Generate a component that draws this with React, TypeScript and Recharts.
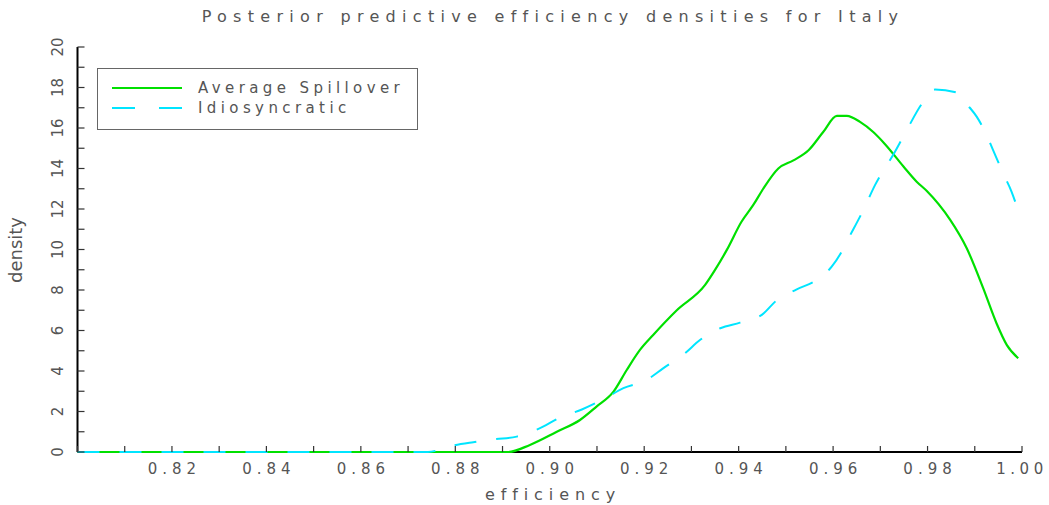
import React from 'react';
import { LineChart, Line, XAxis, YAxis, Legend } from 'recharts';

// Average Spillover density
const avgEff = [0.8, 0.8912, 0.8958, 0.9015, 0.9064, 0.9099, 0.9135, 0.9163, 0.9191, 0.9219, 0.9269, 0.9329, 0.935, 0.9375, 0.9406, 0.9431, 0.9452, 0.9484, 0.9516, 0.9548, 0.9579, 0.9608, 0.9629, 0.9657, 0.9685, 0.971, 0.9749, 0.9777, 0.9798, 0.9848, 0.9883, 0.9918, 0.9946, 0.9968, 0.9992];
const avgDen = [0, 0, 0.35, 1.0, 1.58, 2.24, 2.98, 4.05, 5.04, 5.78, 7.0, 8.25, 8.99, 9.98, 11.37, 12.2, 13.0, 14.0, 14.4, 14.9, 15.8, 16.6, 16.6, 16.3, 15.8, 15.2, 14.1, 13.35, 12.9, 11.46, 10.06, 8.08, 6.36, 5.28, 4.63];

// Idiosyncratic density
const idioEff = [0.8, 0.8742, 0.8792, 0.8838, 0.8884, 0.893, 0.8976, 0.9022, 0.9068, 0.9117, 0.9156, 0.9205, 0.924, 0.9286, 0.9318, 0.9361, 0.9403, 0.9449, 0.9481, 0.9523, 0.9565, 0.9597, 0.9618, 0.9629, 0.9664, 0.9689, 0.9731, 0.9756, 0.9788, 0.9816, 0.9862, 0.9886, 0.9904, 0.9922, 0.9939, 0.996, 0.9978, 0.9988];
const idioDen = [0, 0, 0.3, 0.48, 0.63, 0.76, 1.14, 1.7, 2.1, 2.65, 3.15, 3.56, 4.13, 4.87, 5.53, 6.11, 6.39, 6.77, 7.5, 8.03, 8.49, 9.15, 9.89, 10.39, 11.95, 13.19, 14.83, 15.9, 17.2, 17.9, 17.75, 17.1, 16.56, 15.8, 14.9, 13.76, 12.85, 12.2];

const xTicks = [0.8, 0.81, 0.82, 0.83, 0.84, 0.85, 0.86, 0.87, 0.88, 0.89, 0.9, 0.91, 0.92, 0.93, 0.94, 0.95, 0.96, 0.97, 0.98, 0.99, 1.0];
const xLabelTicks = [0.82, 0.84, 0.86, 0.88, 0.9, 0.92, 0.94, 0.96, 0.98, 1.0];
const yTicks = [0, 1, 2, 3, 4, 5, 6, 7, 8, 9, 10, 11, 12, 13, 14, 15, 16, 17, 18, 19, 20];
const yLabelTicks = [0, 2, 4, 6, 8, 10, 12, 14, 16, 18, 20];

const seriesNames = ['Average Spillover', 'Idiosyncratic'];
const titleText = 'Posterior predictive efficiency densities for Italy';
const xLabelText = 'efficiency';
const yLabelText = 'density';

const avgData = avgEff.map((e, i) => ({ eff: e, den: avgDen[i] }));
const idioData = idioEff.map((e, i) => ({ eff: e, den: idioDen[i] }));

const FONT = '"DejaVu Sans", sans-serif';
const TEXT = '#555';
const TICK = '#333';
const GREEN = '#00e000';
const CYAN = '#00e5ff';
const W = 1049;
const H = 505;
const TL = 6;

const isIn = (v: number, arr: number[]) => arr.some((a) => Math.abs(a - v) < 1e-6);

const BottomTick = (props: any) => {
  const { x, y, payload } = props;
  const ay = y - 10;
  const isLast = Math.abs(payload.value - 1.0) < 1e-6;
  return (
    <g>
      <line x1={x} x2={x} y1={ay} y2={ay - TL} stroke={TICK} strokeWidth={1.2} />
      {isIn(payload.value, xLabelTicks) && (
        <text x={isLast ? x : x + 2.5} y={y} dy="0.78em" textAnchor="middle" fontFamily={FONT} fontSize={15} letterSpacing={isLast ? 4.5 : 5} fill={TEXT}>
          {payload.value.toFixed(2)}
        </text>
      )}
    </g>
  );
};

const TopTick = (props: any) => {
  const { x, y } = props;
  return <line x1={x} x2={x} y1={y} y2={y + TL} stroke={TICK} strokeWidth={1.2} />;
};

const LeftTick = (props: any) => {
  const { x, y, payload } = props;
  const ax = x + 20;
  return (
    <g>
      <line x1={ax} x2={ax + TL + 1} y1={y} y2={y} stroke={TICK} strokeWidth={1.2} />
      {isIn(payload.value, yLabelTicks) && (
        <text x={x} y={y} transform={`rotate(-90 ${x} ${y})`} textAnchor="middle" dominantBaseline="central" fontFamily={FONT} fontSize={15} fill={TEXT}>
          {String(payload.value)}
        </text>
      )}
    </g>
  );
};

const RightTick = (props: any) => {
  const { x, y } = props;
  return <line x1={x - TL - 1} x2={x} y1={y} y2={y} stroke={TICK} strokeWidth={1.2} />;
};

const renderLegend = () => (
  <div style={{ width: 321, height: 62, border: '1px solid #666', boxSizing: 'border-box', background: '#fff' }}>
    <svg width={319} height={60} style={{ display: 'block' }}>
      <line x1={14} x2={84} y1={19} y2={19} stroke={GREEN} strokeWidth={2.2} />
      <line x1={14} x2={84} y1={39} y2={39} stroke={CYAN} strokeWidth={2} strokeDasharray="23 24" />
      <text x={100} y={19} dominantBaseline="central" fontFamily={FONT} fontSize={15} letterSpacing={4.4} fill={TEXT}>{seriesNames[0]}</text>
      <text x={100} y={39} dominantBaseline="central" fontFamily={FONT} fontSize={15} letterSpacing={4.4} fill={TEXT}>{seriesNames[1]}</text>
    </svg>
  </div>
);

export default function App() {
  const lineExtra: any = { zIndex: 600 };
  return (
    <div style={{ position: 'relative', width: W, height: H, background: '#fff', overflow: 'hidden' }}>
      <style>{'html,body{margin:0;padding:0;overflow:hidden;}'}</style>
      <LineChart width={W} height={H} margin={{ top: 47, right: 27, bottom: 23, left: 37.5 }}>
        <XAxis
          xAxisId="b"
          dataKey="eff"
          type="number"
          domain={[0.8, 1.0]}
          ticks={xTicks}
          interval={0}
          height={30}
          tickSize={0}
          tickMargin={10}
          tickLine={false}
          axisLine={{ stroke: '#000', strokeWidth: 2 }}
          tick={BottomTick}
        />
        <XAxis
          xAxisId="t"
          orientation="top"
          dataKey="eff"
          type="number"
          domain={[0.8, 1.0]}
          ticks={xTicks}
          interval={0}
          height={0}
          tickSize={0}
          tickMargin={0}
          tickLine={false}
          axisLine={{ stroke: '#000', strokeWidth: 2 }}
          tick={TopTick}
        />
        <YAxis
          yAxisId="l"
          type="number"
          domain={[0, 20]}
          ticks={yTicks}
          interval={0}
          width={40}
          tickSize={0}
          tickMargin={20}
          tickLine={false}
          axisLine={{ stroke: '#000', strokeWidth: 2 }}
          tick={LeftTick}
        />
        <YAxis
          yAxisId="r"
          orientation="right"
          type="number"
          domain={[0, 20]}
          ticks={yTicks}
          interval={0}
          width={0}
          tickSize={0}
          tickMargin={0}
          tickLine={false}
          axisLine={{ stroke: '#000', strokeWidth: 2 }}
          tick={RightTick}
        />
        <Legend
          layout="horizontal"
          verticalAlign="middle"
          align="center"
          content={renderLegend}
          wrapperStyle={{ position: 'absolute', left: 97, top: 68, width: 321, height: 62 }}
        />
        <Line
          {...lineExtra}
          xAxisId="b"
          yAxisId="l"
          data={avgData}
          dataKey="den"
          name={seriesNames[0]}
          type="monotone"
          stroke={GREEN}
          strokeWidth={2.2}
          dot={false}
          activeDot={false}
          isAnimationActive={false}
        />
        <Line
          {...lineExtra}
          xAxisId="b"
          yAxisId="l"
          data={idioData}
          dataKey="den"
          name={seriesNames[1]}
          type="monotone"
          stroke={CYAN}
          strokeWidth={2}
          strokeDasharray="22 20"
          dot={false}
          activeDot={false}
          isAnimationActive={false}
        />
      </LineChart>
      <svg width={W} height={H} style={{ position: 'absolute', left: 0, top: 0, pointerEvents: 'none' }}>
        <text x={553} y={16} textAnchor="middle" dominantBaseline="central" fontFamily={FONT} fontSize={16} letterSpacing={6.3} fill={TEXT}>{titleText}</text>
        <text x={553} y={494} textAnchor="middle" dominantBaseline="central" fontFamily={FONT} fontSize={16} letterSpacing={5.9} fill={TEXT}>{xLabelText}</text>
        <text x={15.5} y={250} transform="rotate(-90 15.5 250)" textAnchor="middle" dominantBaseline="central" fontFamily={FONT} fontSize={18} fill={TEXT}>{yLabelText}</text>
      </svg>
    </div>
  );
}
